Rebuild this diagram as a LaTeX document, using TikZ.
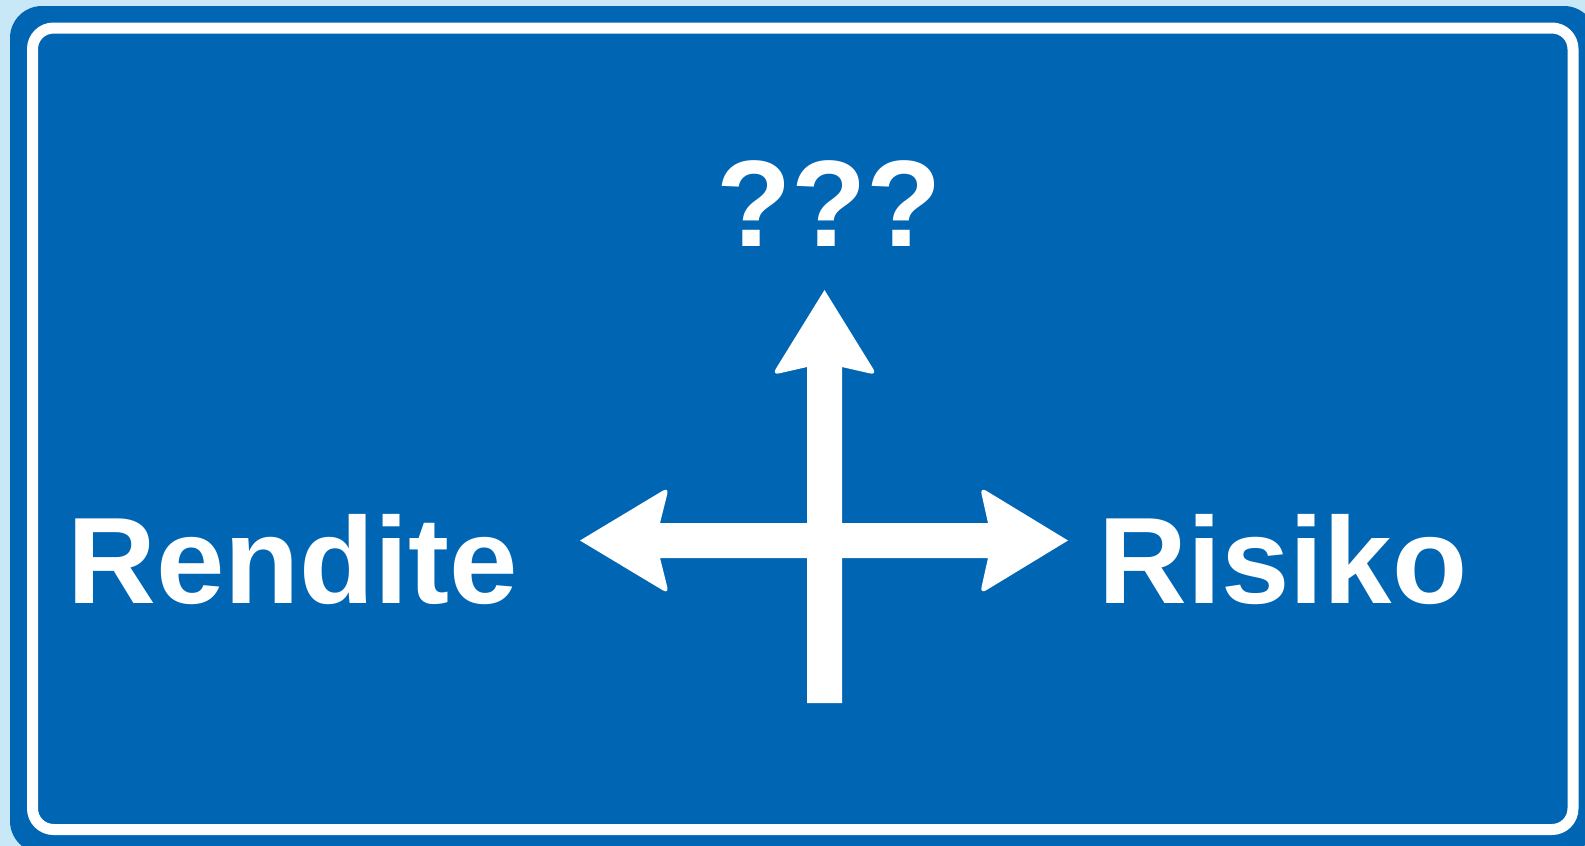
\documentclass[tikz,border=0pt]{standalone}
\usepackage{fontspec}
\setmainfont{Liberation Sans}
\usepackage{tikz}
\usepackage{xcolor}
\usetikzlibrary{positioning}
\definecolor{signblue}{HTML}{0066B3}
\definecolor{skyblue}{HTML}{C9E8F7}

\begin{document}
\begin{tikzpicture}[x=1pt,y=-1pt,
    signtext/.style={text=white, font=\fontsize{123}{123}\selectfont\bfseries, inner sep=0pt, anchor=base west},
    arrowfill/.style={fill=white}]
\useasboundingbox (0,0) rectangle (1585,846);
\fill[skyblue] (0,0) rectangle (1585,846);
\fill[signblue, rounded corners=32pt] (10,6) rectangle (1596,853);
\draw[white, line width=11pt, rounded corners=21pt] (32.5,28) rectangle (1573,829.5);
\coordinate (cross) at (824.5,540.5);
\fill[arrowfill] (824.5,290) [rounded corners=7pt] -- (877,375) [sharp corners] -- (842,367) -- (842,703)
    -- (807,703) -- (807,367) [rounded corners=7pt] -- (772,375) [sharp corners] -- cycle;
\fill[arrowfill] (580,540.5) [rounded corners=7pt] -- (669,487) [sharp corners] -- (660,523) -- (cross |- 0,523)
    -- (cross |- 0,558) -- (660,558) [rounded corners=7pt] -- (669,594) [sharp corners] -- cycle;
\fill[arrowfill] (1068,540.5) [rounded corners=7pt] -- (980,487) [sharp corners] -- (988,523) -- (cross |- 0,523)
    -- (cross |- 0,558) -- (988,558) [rounded corners=7pt] -- (980,594) [sharp corners] -- cycle;
\node[signtext] (rendite) at (67,603) {Rendite};
\node[signtext] (risiko) at (1098,603) {Risiko};
\node[signtext, anchor=base] (quest) at (829,246) {???};
\end{tikzpicture}
\end{document}
